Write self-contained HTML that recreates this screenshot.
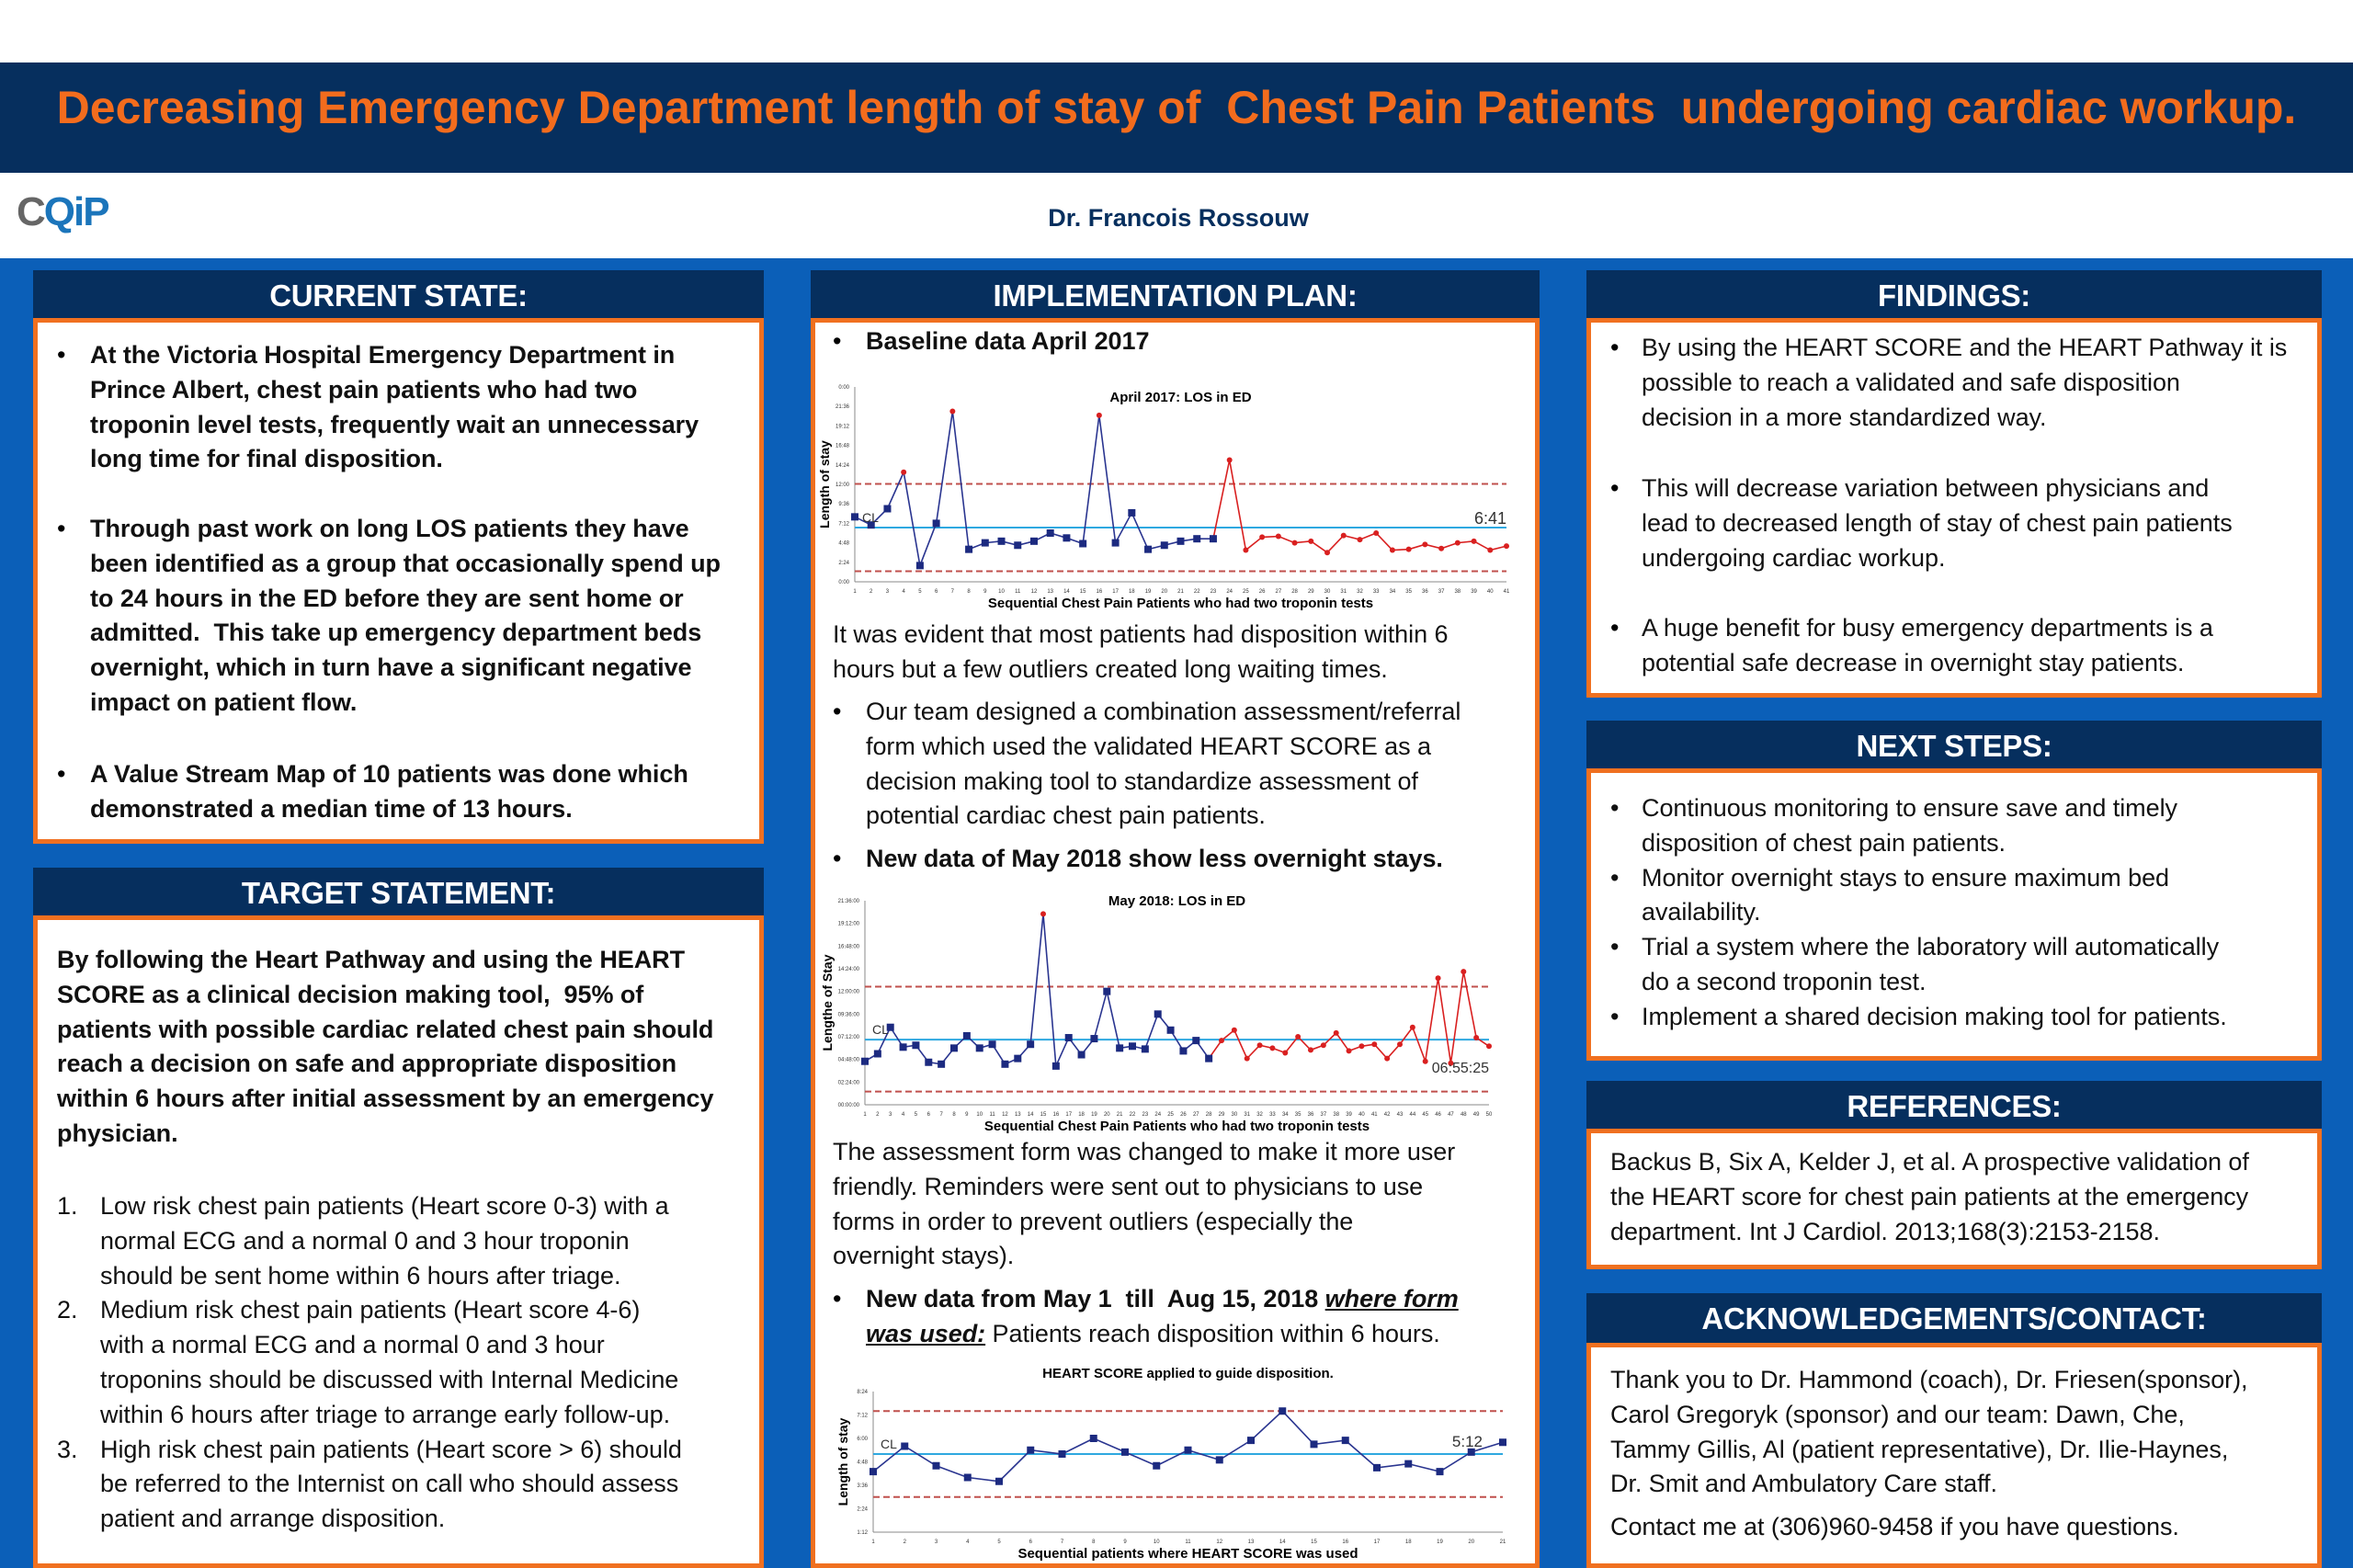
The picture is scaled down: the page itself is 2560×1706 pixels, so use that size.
<!DOCTYPE html>
<html><head><meta charset="utf-8">
<style>
*{margin:0;padding:0;box-sizing:border-box}
html,body{width:2560px;height:1706px;overflow:hidden}
body{position:relative;background:#fff;font-family:"Liberation Sans",sans-serif}
.abs{position:absolute}
#band{left:0;top:68px;width:2560px;height:120px;background:#062f5e}
#title{left:0;top:88px;width:2560px;text-align:center;color:#f36c1d;font-weight:bold;font-size:50px;letter-spacing:0px;white-space:nowrap}
#blue{left:0;top:281px;width:2560px;height:1425px;background:#0b5fb8}
.hd{position:absolute;background:#062f5e;color:#fff;font-weight:bold;font-size:33px;text-align:center;line-height:56px;letter-spacing:-0.3px}
.bx{position:absolute;background:#fff;border:5px solid #f07020}
.t{position:absolute;white-space:nowrap;font-size:27px;line-height:37.8px;color:#111;letter-spacing:-0.05px}
.b{font-weight:bold}
.bul{position:absolute;font-size:27px;line-height:37.8px}
</style></head><body>
<div id="band" class="abs"></div>
<div id="title" class="abs">Decreasing Emergency Department length of stay of&nbsp; Chest Pain Patients&nbsp; undergoing cardiac workup.</div>
<div class="abs" style="left:18px;top:206px;font-size:44px;font-weight:bold;letter-spacing:-2px"><span style="color:#666">C</span><span style="color:#1b75bb">Q</span><span style="color:#1b75bb">i</span><span style="color:#1b75bb">P</span></div>
<div class="abs" style="left:0;width:2564px;top:222px;text-align:center;color:#062f5e;font-weight:bold;font-size:27px">Dr. Francois Rossouw</div>
<div id="blue" class="abs"></div>

<!-- column 1 -->
<div class="hd" style="left:36px;top:294px;width:795px;height:52px">CURRENT STATE:</div>
<div class="bx" style="left:36px;top:346px;width:795px;height:572px"></div>
<div class="bul" style="left:62px;top:368px">•</div>
<div class="t b" style="left:98px;top:368px">At the Victoria Hospital Emergency Department in<br>Prince Albert, chest pain patients who had two<br>troponin level tests, frequently wait an unnecessary<br>long time for final disposition.</div>
<div class="bul" style="left:62px;top:557px">•</div>
<div class="t b" style="left:98px;top:557px">Through past work on long LOS patients they have<br>been identified as a group that occasionally spend up<br>to 24 hours in the ED before they are sent home or<br>admitted.&nbsp; This take up emergency department beds<br>overnight, which in turn have a significant negative<br>impact on patient flow.</div>
<div class="bul" style="left:62px;top:824px">•</div>
<div class="t b" style="left:98px;top:824px">A Value Stream Map of 10 patients was done which<br>demonstrated a median time of 13 hours.</div>

<div class="hd" style="left:36px;top:944px;width:795px;height:52px">TARGET STATEMENT:</div>
<div class="bx" style="left:36px;top:996px;width:795px;height:710px"></div>
<div class="t b" style="left:62px;top:1026px">By following the Heart Pathway and using the HEART<br>SCORE as a clinical decision making tool,&nbsp; 95% of<br>patients with possible cardiac related chest pain should<br>reach a decision on safe and appropriate disposition<br>within 6 hours after initial assessment by an emergency<br>physician.</div>
<div class="t" style="left:62px;top:1294px">1.<br><br><br>2.<br><br><br><br>3.</div>
<div class="t" style="left:109px;top:1294px">Low risk chest pain patients (Heart score 0-3) with a<br>normal ECG and a normal 0 and 3 hour troponin<br>should be sent home within 6 hours after triage.<br>Medium risk chest pain patients (Heart score 4-6)<br>with a normal ECG and a normal 0 and 3 hour<br>troponins should be discussed with Internal Medicine<br>within 6 hours after triage to arrange early follow-up.<br>High risk chest pain patients (Heart score &gt; 6) should<br>be referred to the Internist on call who should assess<br>patient and arrange disposition.</div>

<!-- column 2 -->
<div class="hd" style="left:882px;top:294px;width:793px;height:52px">IMPLEMENTATION PLAN:</div>
<div class="bx" style="left:882px;top:346px;width:793px;height:1360px"></div>
<div class="bul" style="left:906px;top:353px">•</div>
<div class="t b" style="left:942px;top:353px">Baseline data April 2017</div>
<div class="t" style="left:906px;top:672px">It was evident that most patients had disposition within 6<br>hours but a few outliers created long waiting times.</div>
<div class="bul" style="left:906px;top:756px">•</div>
<div class="t" style="left:942px;top:756px">Our team designed a combination assessment/referral<br>form which used the validated HEART SCORE as a<br>decision making tool to standardize assessment of<br>potential cardiac chest pain patients.</div>
<div class="bul" style="left:906px;top:916px">•</div>
<div class="t b" style="left:942px;top:916px">New data of May 2018 show less overnight stays.</div>
<div class="t" style="left:906px;top:1235px">The assessment form was changed to make it more user<br>friendly. Reminders were sent out to physicians to use<br>forms in order to prevent outliers (especially the<br>overnight stays).</div>
<div class="bul" style="left:906px;top:1395px">•</div>
<div class="t" style="left:942px;top:1395px"><b>New data from May 1&nbsp; till&nbsp; Aug 15, 2018 <i><u>where form</u></i></b><br><b><i><u>was used:</u></i></b> Patients reach disposition within 6 hours.</div>
<svg id="charts" class="abs" style="left:0;top:0" width="2560" height="1706"></svg>

<!-- column 3 -->
<div class="hd" style="left:1726px;top:294px;width:800px;height:52px">FINDINGS:</div>
<div class="bx" style="left:1726px;top:346px;width:800px;height:413px"></div>
<div class="bul" style="left:1752px;top:360px">•</div>
<div class="t" style="left:1786px;top:360px">By using the HEART SCORE and the HEART Pathway it is<br>possible to reach a validated and safe disposition<br>decision in a more standardized way.</div>
<div class="bul" style="left:1752px;top:513px">•</div>
<div class="t" style="left:1786px;top:513px">This will decrease variation between physicians and<br>lead to decreased length of stay of chest pain patients<br>undergoing cardiac workup.</div>
<div class="bul" style="left:1752px;top:665px">•</div>
<div class="t" style="left:1786px;top:665px">A huge benefit for busy emergency departments is a<br>potential safe decrease in overnight stay patients.</div>

<div class="hd" style="left:1726px;top:784px;width:800px;height:52px">NEXT STEPS:</div>
<div class="bx" style="left:1726px;top:836px;width:800px;height:318px"></div>
<div class="t" style="left:1752px;top:861px">•<br><br>•<br><br>•<br><br>•</div>
<div class="t" style="left:1786px;top:861px">Continuous monitoring to ensure save and timely<br>disposition of chest pain patients.<br>Monitor overnight stays to ensure maximum bed<br>availability.<br>Trial a system where the laboratory will automatically<br>do a second troponin test.<br>Implement a shared decision making tool for patients.</div>

<div class="hd" style="left:1726px;top:1176px;width:800px;height:52px">REFERENCES:</div>
<div class="bx" style="left:1726px;top:1228px;width:800px;height:153px"></div>
<div class="t" style="left:1752px;top:1246px">Backus B, Six A, Kelder J, et al. A prospective validation of<br>the HEART score for chest pain patients at the emergency<br>department. Int J Cardiol. 2013;168(3):2153-2158.</div>

<div class="hd" style="left:1726px;top:1407px;width:800px;height:54px">ACKNOWLEDGEMENTS/CONTACT:</div>
<div class="bx" style="left:1726px;top:1461px;width:800px;height:245px"></div>
<div class="t" style="left:1752px;top:1483px">Thank you to Dr. Hammond (coach), Dr. Friesen(sponsor),<br>Carol Gregoryk (sponsor) and our team: Dawn, Che,<br>Tammy Gillis, Al (patient representative), Dr. Ilie-Haynes,<br>Dr. Smit and Ambulatory Care staff.</div>
<div class="t" style="left:1752px;top:1643px">Contact me at (306)960-9458 if you have questions.</div>

<script>
var svg=document.getElementById('charts'),out='';
function chart(o){
 var n=o.d.length,x0=o.x0,x1=o.x1,yt=o.yt,yb=o.yb;
 function X(i){return x0+(x1-x0)*i/(n-1)}
 function Y(v){return yb-(yb-yt)*(v-o.min)/(o.max-o.min)}
 out+='<line x1="'+x0+'" y1="'+yb+'" x2="'+x1+'" y2="'+yb+'" stroke="#888" stroke-width="1"/>';
 out+='<line x1="'+x0+'" y1="'+yt+'" x2="'+x0+'" y2="'+yb+'" stroke="#888" stroke-width="1"/>';
 for(var k=0;k<o.ticks.length;k++){var tv=o.ticks[k];out+='<text x="'+(x0-6)+'" y="'+(Y(tv[0])+2)+'" font-size="6" text-anchor="end" fill="#333">'+tv[1]+'</text>'}
 for(var i=0;i<n;i++)out+='<text x="'+X(i)+'" y="'+(yb+12)+'" font-size="6" text-anchor="middle" fill="#333">'+(i+1)+'</text>';
 [[o.ucl,'#c0504d'],[o.lcl,'#c0504d']].forEach(function(l){out+='<line x1="'+x0+'" x2="'+x1+'" y1="'+Y(l[0])+'" y2="'+Y(l[0])+'" stroke="'+l[1]+'" stroke-width="2" stroke-dasharray="7,4"/>'});
 out+='<line x1="'+x0+'" x2="'+x1+'" y1="'+Y(o.cl)+'" y2="'+Y(o.cl)+'" stroke="#2ea8e0" stroke-width="2"/>';
 var split=o.split||n;
 var p1='',p2='';
 for(i=0;i<n;i++){var pt=X(i)+','+Y(o.d[i])+' ';if(i<split)p1+=pt;if(i>=split-1)p2+=pt;}
 out+='<polyline points="'+p1+'" fill="none" stroke="#2a3590" stroke-width="1.6"/>';
 if(p2)out+='<polyline points="'+p2+'" fill="none" stroke="#d92020" stroke-width="1.6"/>';
 for(i=0;i<n;i++){var red=(i>=split)||o.d[i]>o.ucl;
  if(red)out+='<circle cx="'+X(i)+'" cy="'+Y(o.d[i])+'" r="3" fill="#d92020"/>';
  else out+='<rect x="'+(X(i)-4)+'" y="'+(Y(o.d[i])-4)+'" width="8" height="8" fill="#1c2a80"/>';}
 out+='<text x="'+((x0+x1)/2)+'" y="'+o.ty+'" font-size="15" font-weight="bold" text-anchor="middle">'+o.title+'</text>';
 out+='<text x="'+((x0+x1)/2)+'" y="'+(yb+28)+'" font-size="15" font-weight="bold" text-anchor="middle">'+o.xl+'</text>';
 var ym=(yt+yb)/2;
 out+='<text transform="translate('+o.ylx+','+ym+') rotate(-90)" font-size="14" font-weight="bold" text-anchor="middle">'+o.yl+'</text>';
 out+='<text x="'+(x1-o.clx)+'" y="'+(Y(o.cl)+o.cly)+'" font-size="'+o.cls+'" text-anchor="end" fill="#333">'+o.clt+'</text>';
 out+='<text x="'+(x0+8)+'" y="'+(Y(o.cl)-6)+'" font-size="14" fill="#333">CL</text>';
}
chart({x0:930,x1:1639,yt:421,yb:633,min:0,max:24,ucl:12.05,lcl:1.3,cl:6.68,split:23,clx:0,
 d:[8,7,9,13.5,2,7.2,21,4,4.8,5,4.5,5,6,5.4,4.7,20.5,4.8,8.5,4,4.5,5,5.3,5.3,15,3.9,5.5,5.6,4.8,5,3.6,5.7,5.2,6,3.9,4,4.6,4.1,4.8,5,3.9,4.4],
 ticks:[[0,'0:00'],[2.4,'2:24'],[4.8,'4:48'],[7.2,'7:12'],[9.6,'9:36'],[12,'12:00'],[14.4,'14:24'],[16.8,'16:48'],[19.2,'19:12'],[21.6,'21:36'],[24,'0:00']],
 title:'April 2017: LOS in ED',ty:437,xl:'Sequential Chest Pain Patients who had two troponin tests',yl:'Length of stay',ylx:902,clt:'6:41',cly:-4,cls:18});
chart({x0:941,x1:1620,yt:980,yb:1202,min:0,max:21.6,ucl:12.5,lcl:1.4,cl:6.9,split:28,clx:0,
 d:[4.6,5.4,8.2,6.1,6.3,4.5,4.3,6,7.3,6,6.4,4.3,4.9,6.4,20.2,4.1,7.1,5.3,7,12,6,6.2,5.9,9.6,7.9,5.7,6.8,4.9,6.8,7.9,4.9,6.3,6,5.5,7.2,5.8,6.3,7.6,5.7,6.2,6.4,4.9,6.4,8.2,4.6,13.4,4.4,14.1,7.1,6.2],
 ticks:[[0,'00:00:00'],[2.4,'02:24:00'],[4.8,'04:48:00'],[7.2,'07:12:00'],[9.6,'09:36:00'],[12,'12:00:00'],[14.4,'14:24:00'],[16.8,'16:48:00'],[19.2,'19:12:00'],[21.6,'21:36:00']],
 title:'May 2018: LOS in ED',ty:985,xl:'Sequential Chest Pain Patients who had two troponin tests',yl:'Lengthe of Stay',ylx:905,clt:'06:55:25',cly:36,cls:16});
chart({x0:950,x1:1635,yt:1514,yb:1667,min:1.2,max:8.4,ucl:7.4,lcl:3,cl:5.2,clx:22,
 d:[4.3,5.6,4.6,4,3.8,5.4,5.2,6,5.3,4.6,5.4,4.9,5.9,7.4,5.7,5.9,4.5,4.7,4.3,5.3,5.8],
 ticks:[[1.2,'1:12'],[2.4,'2:24'],[3.6,'3:36'],[4.8,'4:48'],[6,'6:00'],[7.2,'7:12'],[8.4,'8:24']],
 title:'HEART SCORE applied to guide disposition.',ty:1499,xl:'Sequential patients where HEART SCORE was used',yl:'Length of stay',ylx:922,clt:'5:12',cly:-8,cls:17});
svg.innerHTML=out;
</script>
</body></html>
